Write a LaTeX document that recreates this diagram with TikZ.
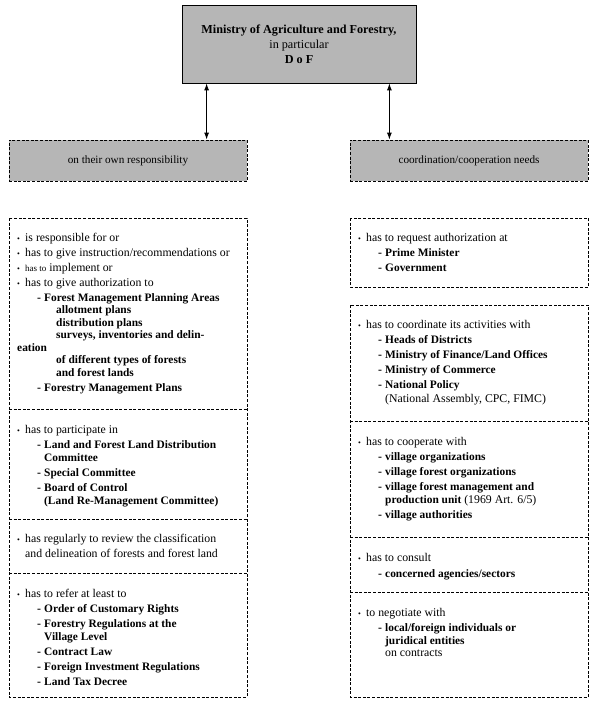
\documentclass[tikz,border=0pt]{standalone}
\usepackage{fontspec}
\setmainfont{Liberation Serif}
\usetikzlibrary{arrows.meta, positioning}

\definecolor{boxgray}{RGB}{182,182,182}

\tikzstyle{headbox} = [rectangle, draw=black, fill=boxgray, line width=0.8pt,
minimum width=234pt, minimum height=78pt, inner sep=0pt,
align=center, font=\fontsize{12.2}{14.8}\selectfont]
\tikzstyle{groupbox} = [rectangle, draw=black, fill=boxgray, line width=0.9pt,
dash pattern=on 3pt off 1.6pt,
minimum width=238pt, minimum height=41pt, inner sep=0pt,
font=\fontsize{11.2}{15}\selectfont]
\tikzstyle{section} = [rectangle, minimum width=238pt, inner sep=0pt, outer sep=0pt]
\tikzstyle{frame} = [draw=black, line width=0.9pt, dash pattern=on 3pt off 1.6pt]
\tikzstyle{txt} = [anchor=north west, inner sep=0pt, align=left,
font=\fontsize{11.8}{15}\selectfont]
\tikzstyle{arrow} = [line width=0.9pt, {Latex[length=7pt,width=5pt]}-{Latex[length=7pt,width=5pt]}]

\newcommand{\itembul}{\strut\makebox[8pt][l]{\footnotesize\textbullet}}
\newcommand{\itemdash}{\hspace*{20pt}\makebox[7pt][l]{\textbf{-}}}
\newcommand{\contind}{\hspace*{27pt}}
\newcommand{\subind}{\hspace*{39pt}}
\newcommand{\textind}{\hspace*{8pt}}
\newcommand{\bt}[1]{{\fontsize{11.4}{15}\selectfont\bfseries #1}}

\begin{document}
\begin{tikzpicture}[x=1pt, y=-1pt]

        \useasboundingbox (0,0) rectangle (595,707);

        % Kopf
        \node (mof) [headbox] at (299,44) {\textbf{Ministry of Agriculture and Forestry,}\\in particular\\\textbf{D o F}};
        \node (lresp) [groupbox] at (128,160.5) {on their own responsibility};
        \node (rneeds) [groupbox] at (469,160.5) {coordination/cooperation needs};

        % linke Spalte
        \node (lsec1) [section, minimum height=191pt, anchor=north west] at (9,218) {};
        \node (lsec2) [section, minimum height=110pt, below=0pt of lsec1] {};
        \node (lsec3) [section, minimum height=54pt, below=0pt of lsec2] {};
        \node (lsec4) [section, minimum height=124pt, below=0pt of lsec3] {};

        % rechte Spalte
        \node (rbox1) [section, minimum height=69pt, anchor=north west] at (350,218) {};
        \node (rsec1) [section, minimum height=116pt, anchor=north west] at (350,305) {};
        \node (rsec2) [section, minimum height=116pt, below=0pt of rsec1] {};
        \node (rsec3) [section, minimum height=55pt, below=0pt of rsec2] {};
        \node (rsec4) [section, minimum height=105pt, below=0pt of rsec3] {};

        % Rahmen
        \draw [frame] (lsec1.north west) rectangle (lsec4.south east);
        \draw [frame] (lsec1.south west) -- (lsec1.south east);
        \draw [frame] (lsec2.south west) -- (lsec2.south east);
        \draw [frame] (lsec3.south west) -- (lsec3.south east);
        \draw [frame] (rbox1.north west) rectangle (rbox1.south east);
        \draw [frame] (rsec1.north west) rectangle (rsec4.south east);
        \draw [frame] (rsec1.south west) -- (rsec1.south east);
        \draw [frame] (rsec2.south west) -- (rsec2.south east);
        \draw [frame] (rsec3.south west) -- (rsec3.south east);

        % Texte links
        \node (ltxt1) [txt] at ([shift={(8pt,-12.5pt)}]lsec1.north west) {\itembul is responsible for or\\
        \itembul has to give instruction/recommendations or\\
        \itembul {\small has to} implement or\\
        \itembul has to give authorization to\\
        \itemdash\bt{Forest Management Planning Areas}\\[-2.5pt]
        \subind\bt{allotment plans}\\[-2.5pt]
        \subind\bt{distribution plans}\\[-2.5pt]
        \subind\bt{surveys, inventories and delin-}\\[-2.5pt]
        \bt{eation}\\[-2.5pt]
        \subind\bt{of different types of forests}\\[-2.5pt]
        \subind\bt{and forest lands}\\
        \itemdash\bt{Forestry Management Plans}};
        \node (ltxt2) [txt] at ([shift={(8pt,-13.5pt)}]lsec2.north west) {\itembul has to participate in\\
        \itemdash\bt{Land and Forest Land Distribution}\\[-2pt]
        \contind\bt{Committee}\\
        \itemdash\bt{Special Committee}\\
        \itemdash\bt{Board of Control}\\[-2pt]
        \contind\bt{(Land Re-Management Committee)}};
        \node (ltxt3) [txt] at ([shift={(8pt,-12.5pt)}]lsec3.north west) {\itembul has regularly to review the classification\\
        \textind and delineation of forests and forest land};
        \node (ltxt4) [txt] at ([shift={(8pt,-13.5pt)}]lsec4.north west) {\itembul has to refer at least to\\
        \itemdash\bt{Order of Customary Rights}\\
        \itemdash\bt{Forestry Regulations at the}\\[-2pt]
        \contind\bt{Village Level}\\
        \itemdash\bt{Contract Law}\\
        \itemdash\bt{Foreign Investment Regulations}\\
        \itemdash\bt{Land Tax Decree}};

        % Texte rechts
        \node (rtxt0) [txt] at ([shift={(8pt,-12.5pt)}]rbox1.north west) {\itembul has to request authorization at\\
        \itemdash\bt{Prime Minister}\\
        \itemdash\bt{Government}};
        \node (rtxt1) [txt] at ([shift={(8pt,-12.5pt)}]rsec1.north west) {\itembul has to coordinate its activities with\\
        \itemdash\bt{Heads of Districts}\\
        \itemdash\bt{Ministry of Finance/Land Offices}\\
        \itemdash\bt{Ministry of Commerce}\\
        \itemdash\bt{National Policy}\\[-1pt]
        \contind(National Assembly, CPC, FIMC)};
        \node (rtxt2) [txt] at ([shift={(8pt,-13.5pt)}]rsec2.north west) {\itembul has to cooperate with\\
        \itemdash\bt{village organizations}\\
        \itemdash\bt{village forest organizations}\\
        \itemdash\bt{village forest management and}\\[-2pt]
        \contind\bt{production unit} (1969 Art. 6/5)\\
        \itemdash\bt{village authorities}};
        \node (rtxt3) [txt] at ([shift={(8pt,-13.5pt)}]rsec3.north west) {\itembul has to consult\\[1pt]
        \itemdash\bt{concerned agencies/sectors}};
        \node (rtxt4) [txt] at ([shift={(8pt,-13.5pt)}]rsec4.north west) {\itembul to negotiate with\\
        \itemdash\bt{local/foreign individuals or}\\[-2pt]
        \contind\bt{juridical entities}\\[-2.5pt]
        \contind on contracts};

        % Pfeile
        \coordinate (la) at ([xshift=25pt]mof.south west);
        \coordinate (ra) at ([xshift=-27pt]mof.south east);
        \draw [arrow] (la) -- (la |- lresp.north);
        \draw [arrow] (ra) -- (ra |- rneeds.north);

\end{tikzpicture}
\end{document}
